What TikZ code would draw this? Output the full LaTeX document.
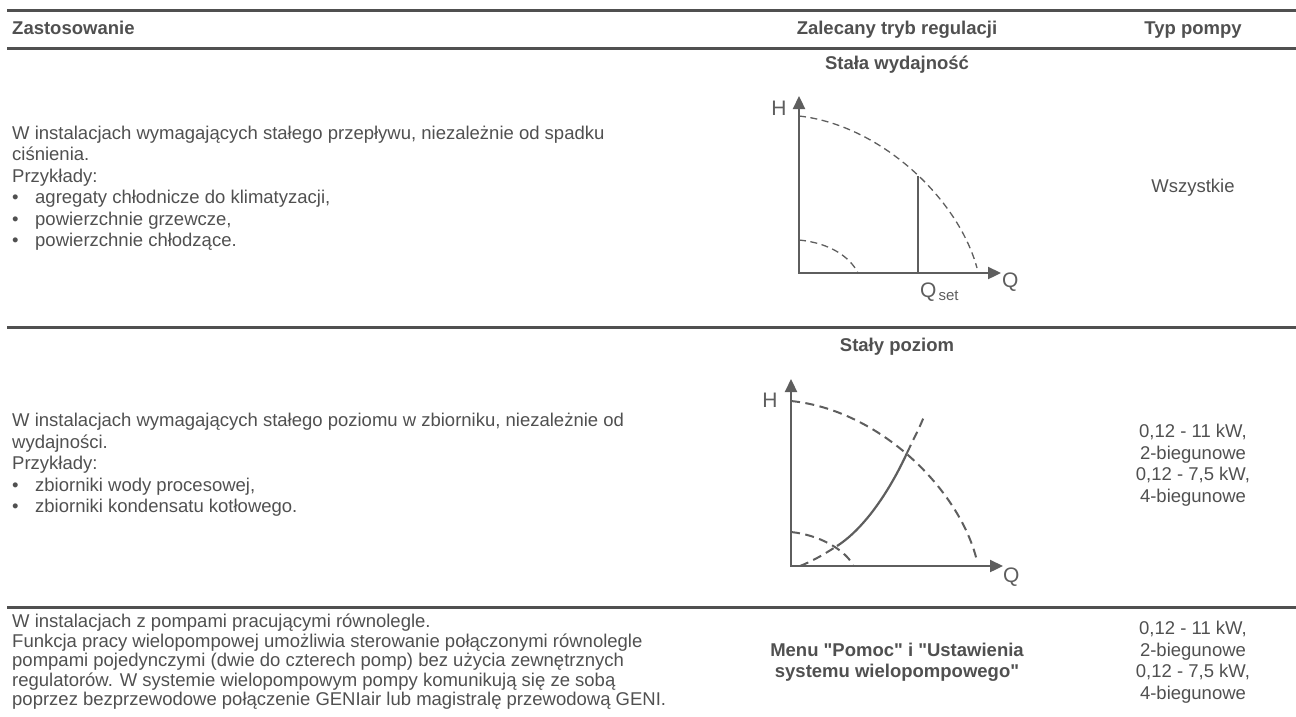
\documentclass[tikz,border=0pt]{standalone}
\usepackage{fontspec}
\setmainfont{Liberation Sans}
\setmonofont{Liberation Sans}
\usetikzlibrary{arrows.meta}
\definecolor{tg}{HTML}{505050}
\definecolor{lg}{HTML}{5E5E5E}
\newcommand{\dq}{{\ttfamily\char34}}
\begin{document}
\begin{tikzpicture}[x=1pt,y=-1pt,
  rulex/.style={line width=3pt,draw=tg},
  body/.style={inner sep=0pt,text=tg,font=\fontsize{18.5}{21.5}\selectfont},
  bodyt/.style={inner sep=0pt,text=tg,font=\fontsize{18.5}{19.5}\selectfont},
  head/.style={inner sep=0pt,text=tg,font=\fontsize{18.5}{21.5}\selectfont\bfseries},
  lbl/.style={inner sep=0pt,text=lg,font=\fontsize{21}{21}\selectfont},
  axis/.style={line width=2.3pt,draw=lg,{Triangle[length=13pt,width=12pt]}-{Triangle[length=13pt,width=12pt]}},
  thindash/.style={line width=1.3pt,draw=lg,dash pattern=on 7pt off 4.5pt},
  thickdash/.style={line width=2pt,draw=lg,dash pattern=on 9pt off 5.5pt},
  solidc/.style={line width=2.2pt,draw=lg}]
\useasboundingbox (0,0) rectangle (1296,716);
% rules
\draw[rulex] (7,10) -- (1296,10);
\draw[rulex] (7,48) -- (1296,48);
\draw[rulex] (7,327) -- (1296,327);
\draw[rulex] (7,607) -- (1296,607);
% header
\node[head,anchor=base west] (h1) at (12,34.5) {Zastosowanie};
\node[head,anchor=base] (h2) at (897,34.5) {Zalecany tryb regulacji};
\node[head,anchor=base] (h3) at (1193,34.5) {Typ pompy};
% row 1
\node[head,anchor=base] (t1) at (897,69.5) {Stała wydajność};
\node[body,anchor=west,align=left] (a1) at (12,188) {W instalacjach wymagających stałego przepływu, niezależnie od spadku\\
ciśnienia.\\
Przykłady:\\
\makebox[23pt][l]{•}agregaty chłodnicze do klimatyzacji,\\
\makebox[23pt][l]{•}powierzchnie grzewcze,\\
\makebox[23pt][l]{•}powierzchnie chłodzące.};
\node[body,anchor=base] (p1) at (1193,192.5) {Wszystkie};
% graph 1
\coordinate (o1) at (799,273);
\coordinate (y1) at (799,96);
\coordinate (x1) at (1001,273);
\draw[axis] (y1) -- (o1) -- (x1);
\node[lbl] (H1) at (779,108) {H};
\node[lbl,anchor=west] (Q1) at (1002,282) {Q};
\coordinate (c1a) at (799,116);
\coordinate (c1b) at (977,268);
\draw[thindash] (c1a) .. controls (880,125) and (958,198) .. (c1b);
\coordinate (c2a) at (799,240);
\coordinate (c2b) at (858,273);
\draw[thindash] (c2a) .. controls (830,243) and (850,257) .. (c2b);
\coordinate (qs) at (918,273);
\coordinate (qt) at (918,176);
\draw[solidc] (qs) -- (qt);
\node[inner sep=0pt,text=lg,anchor=base west] (Qs) at (920,297) {\fontsize{21}{21}\selectfont Q\kern2pt\raisebox{-3pt}{\fontsize{15}{15}\selectfont set}};
% row 2
\node[head,anchor=base] (t2) at (897,351.5) {Stały poziom};
\node[body,anchor=west,align=left] (a2) at (12,465) {W instalacjach wymagających stałego poziomu w zbiorniku, niezależnie od\\
wydajności.\\
Przykłady:\\
\makebox[23pt][l]{•}zbiorniki wody procesowej,\\
\makebox[23pt][l]{•}zbiorniki kondensatu kotłowego.};
\node[body,align=center] (p2) at (1193,465) {0,12 - 11 kW,\\2-biegunowe\\0,12 - 7,5 kW,\\4-biegunowe};
% graph 2
\coordinate (o2) at (791,566);
\coordinate (y2) at (791,379);
\coordinate (x2) at (1003,566);
\draw[axis] (y2) -- (o2) -- (x2);
\node[lbl] (H2) at (770,400) {H};
\node[lbl,anchor=west] (Q2) at (1003,577) {Q};
\coordinate (d1a) at (791,401);
\coordinate (d1b) at (977,561);
\draw[thickdash] (d1a) .. controls (880,410) and (960,490) .. (d1b);
\coordinate (d2a) at (791,532);
\coordinate (d2b) at (853,565);
\draw[thickdash] (d2a) .. controls (820,535) and (845,550) .. (d2b);
\coordinate (s0) at (800,566);
\coordinate (s1) at (837,546);
\coordinate (s2) at (907,453);
\coordinate (s3) at (925,414);
\draw[thickdash] (s0) .. controls (815,560) and (826,553) .. (s1);
\draw[solidc] (s1) .. controls (865,528) and (890,490) .. (s2);
\draw[thickdash] (s2) .. controls (914,438) and (920,427) .. (s3);
% row 3
\node[bodyt,anchor=west,align=left] (a3) at (12,662) {W instalacjach z pompami pracującymi równolegle.\\
Funkcja pracy wielopompowej umożliwia sterowanie połączonymi równolegle\\
pompami pojedynczymi (dwie do czterech pomp) bez użycia zewnętrznych\\
regulatorów. W systemie wielopompowym pompy komunikują się ze sobą\\
poprzez bezprzewodowe połączenie GENIair lub magistralę przewodową GENI.};
\node[head,align=center] (m3) at (897,662) {Menu \dq Pomoc\dq{} i \dq Ustawienia\\systemu wielopompowego\dq};
\node[body,align=center] (p3) at (1193,662) {0,12 - 11 kW,\\2-biegunowe\\0,12 - 7,5 kW,\\4-biegunowe};
\end{tikzpicture}
\end{document}
